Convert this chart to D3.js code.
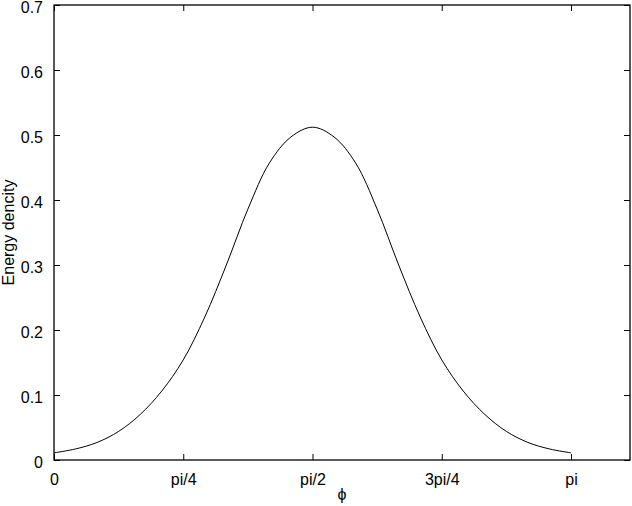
<!DOCTYPE html>
<html><head><meta charset="utf-8">
<script src="https://cdn.jsdelivr.net/npm/d3@7"></script>
<style>
html,body{margin:0;padding:0;background:#fff;}
svg{display:block;}
text{font-family:"Liberation Sans",Arial,Helvetica,sans-serif;fill:#000;}
</style></head>
<body>
<svg id="chart" width="632" height="506"></svg>
<script>
// phi sampled at k*pi/24, k = 0..24
const phiSteps = d3.range(0, 25);
const energy = [0.011, 0.017, 0.027, 0.044, 0.070, 0.106, 0.154, 0.220, 0.300, 0.386, 0.457, 0.497, 0.512,
                0.497, 0.457, 0.386, 0.300, 0.220, 0.154, 0.106, 0.070, 0.044, 0.027, 0.017, 0.011];
const xTickValues = [0, Math.PI/4, Math.PI/2, 3*Math.PI/4, Math.PI];
const xTickLabels = ["0", "pi/4", "pi/2", "3pi/4", "pi"];
const yTickValues = [0, 0.1, 0.2, 0.3, 0.4, 0.5, 0.6, 0.7];
const yTickLabels = ["0", "0.1", "0.2", "0.3", "0.4", "0.5", "0.6", "0.7"];
const xDomain = [0, 3.5];
const yDomain = [0, 0.7];

const svg = d3.select("#chart");
const L = 54, R = 630, T = 5, B = 460;
const x = d3.scaleLinear().domain(xDomain).range([L, R]);
const y = d3.scaleLinear().domain(yDomain).range([B, T]);
const tickLen = 6;
const fs = 16;

const data = phiSteps.map((k, i) => ({phi: k * Math.PI / 24, v: energy[i]}));

// curve
svg.append("path")
  .datum(data)
  .attr("fill", "none")
  .attr("stroke", "#000")
  .attr("stroke-width", 1)
  .attr("d", d3.line().x(d => x(d.phi)).y(d => y(d.v)).curve(d3.curveCatmullRom.alpha(0.5)));

// axes: bottom
const xAxisB = svg.append("g").attr("transform", `translate(0,${B})`)
  .call(d3.axisBottom(x).tickValues(xTickValues).tickFormat((d, i) => xTickLabels[i])
        .tickSizeInner(-tickLen).tickSizeOuter(0).tickPadding(tickLen + 8));
const xAxisT = svg.append("g").attr("transform", `translate(0,${T})`)
  .call(d3.axisTop(x).tickValues(xTickValues).tickFormat("")
        .tickSizeInner(-tickLen).tickSizeOuter(0));
const yAxisL = svg.append("g").attr("transform", `translate(${L},0)`)
  .call(d3.axisLeft(y).tickValues(yTickValues).tickFormat((d, i) => yTickLabels[i])
        .tickSizeInner(-tickLen).tickSizeOuter(0).tickPadding(tickLen + 5));
const yAxisR = svg.append("g").attr("transform", `translate(${R},0)`)
  .call(d3.axisRight(y).tickValues(yTickValues).tickFormat("")
        .tickSizeInner(-tickLen).tickSizeOuter(0));

[xAxisB, xAxisT, yAxisL, yAxisR].forEach(g => {
  g.select(".domain").remove();
  g.selectAll("line").attr("stroke", "#000").attr("stroke-width", 1);
  g.selectAll("text").style("font-size", fs + "px")
    .style("font-family", '"Liberation Sans", Arial, sans-serif').attr("fill", "#000");
});
yAxisL.selectAll("text").attr("dy", "0.45em");

// box
svg.append("rect").attr("x", L).attr("y", T).attr("width", R - L).attr("height", B - T)
  .attr("fill", "none").attr("stroke", "#000").attr("stroke-width", 1.3);

// labels
svg.append("text").attr("x", (L + R) / 2).attr("y", 500).attr("text-anchor", "middle")
  .style("font-size", "16px").text("ϕ");
svg.append("text").attr("transform", `translate(14,${(T + B) / 2}) rotate(-90)`)
  .attr("text-anchor", "middle").style("font-size", "16px").text("Energy dencity");
</script>
</body></html>
